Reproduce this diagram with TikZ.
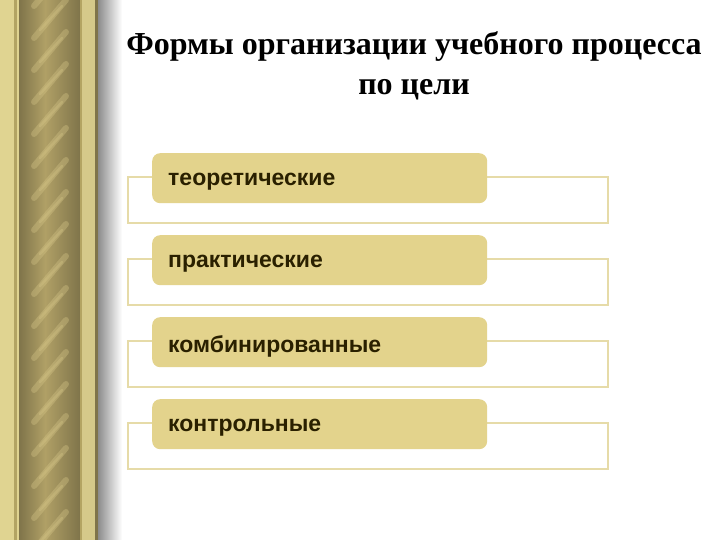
\documentclass[tikz,border=0pt]{standalone}
\usepackage{fontspec}
\setmainfont{Liberation Serif}
\newfontfamily\boxfont{Liberation Sans}
\definecolor{goldA}{HTML}{E0D491}
\definecolor{goldB}{HTML}{B3A463}
\definecolor{rodDark}{HTML}{7F744A}
\definecolor{rodMid}{HTML}{B0A066}
\definecolor{rodLight}{HTML}{D9C98A}
\definecolor{boxFill}{HTML}{E3D38C}
\definecolor{boxLine}{HTML}{E6DBA8}
\definecolor{boxText}{HTML}{2A2000}
\begin{document}
\begin{tikzpicture}[x=1pt,y=-1pt,
  itembox/.style={fill=boxFill,rounded corners=8pt,minimum width=335pt,minimum height=50pt,inner sep=0pt},
  itemtext/.style={font=\boxfont\bfseries\fontsize{23}{27}\selectfont,text=boxText,anchor=west,inner sep=0pt},
  frame/.style={draw=boxLine,line width=2.2pt}]
\useasboundingbox (0,0) rectangle (720,540);
\fill[white] (0,0) rectangle (720,540);
% left decorative border
\fill[goldA] (0,0) rectangle (97,540);
\fill[goldB] (14,0) rectangle (17,540);
\shade[left color=rodDark,right color=rodMid] (19,0) rectangle (45,540);
\shade[left color=rodMid,right color=rodDark] (45,0) rectangle (80,540);
\begin{scope}
\clip (24,0) rectangle (76,540);
\foreach \k in {-2,...,18}{
  \draw[rodLight,opacity=0.35,line width=6pt,line cap=round] (34,{\k*32+38}) -- (66,{\k*32});
  \draw[rodLight,opacity=0.3,line width=2.5pt,line cap=round] (40,{\k*32+30}) -- (62,{\k*32+6});
}
\end{scope}
\fill[goldB] (80,0) rectangle (82,540);
\fill[goldA!95!black] (82,0) rectangle (95,540);
\fill[rodDark] (95,0) rectangle (98,540);
\shade[left color=black!45,right color=white] (98,0) rectangle (122,540);
% title
\node[font=\bfseries\fontsize{32}{40}\selectfont,align=center] (title) at (414,66) {Формы организации учебного процесса\\по цели};
% items
\foreach \i/\t in {0/теоретические,1/практические,2/комбинированные,3/контрольные}{
  \draw[frame] (128,{177+82*\i}) rectangle (608,{223+82*\i});
  \node[itembox,anchor=north west] (box\i) at (152,{153+82*\i}) {};
  \node[itemtext] (txt\i) at (168,{182+82*\i}) {\t};
}
\end{tikzpicture}
\end{document}
